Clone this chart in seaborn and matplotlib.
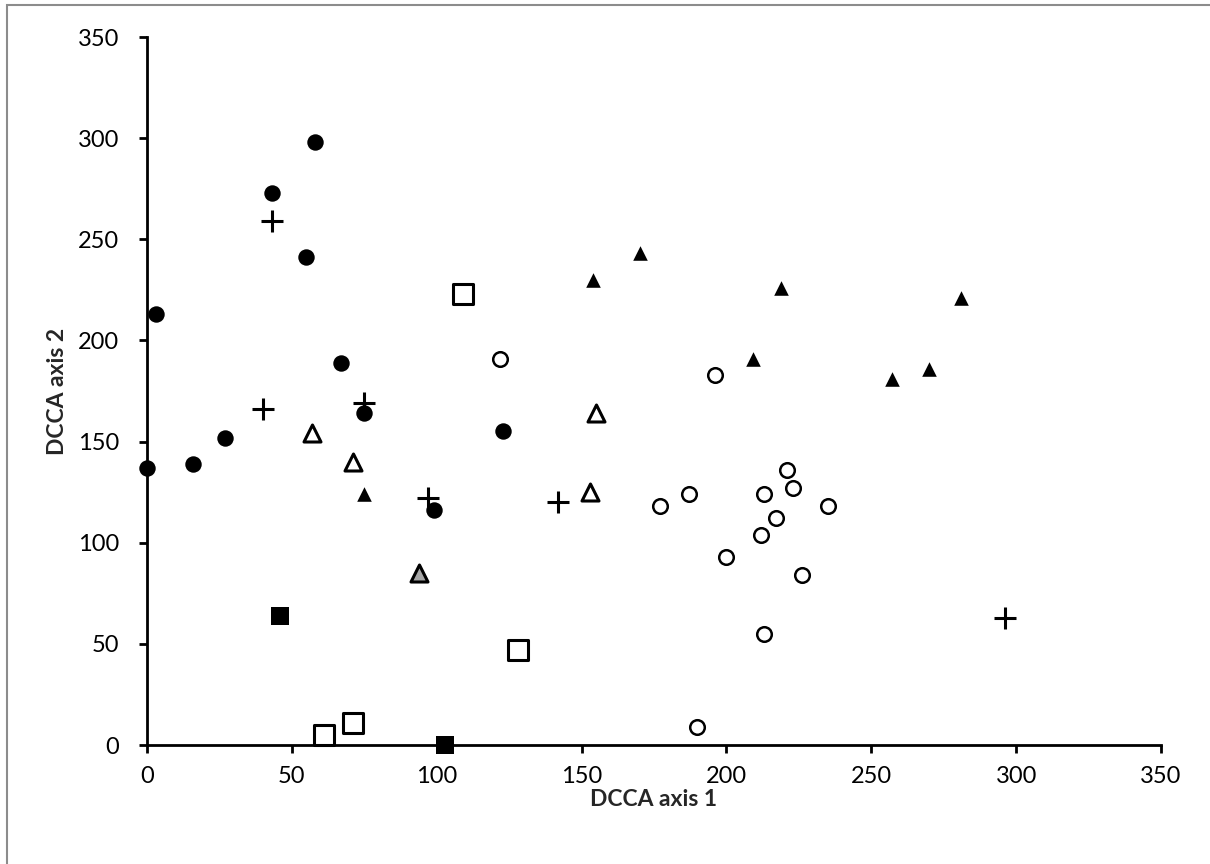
import pandas as pd
import seaborn as sns
import matplotlib.pyplot as plt
from matplotlib.patches import Rectangle

# Site scores (DCCA axis 1, DCCA axis 2)
filled_circle_x = [0, 3, 16, 27, 43, 55, 58, 67, 75, 99, 123]
filled_circle_y = [137, 213, 139, 152, 273, 241, 298, 189, 164, 116, 155]

plus_x = [43, 40, 75, 97, 142, 296]
plus_y = [259, 166, 169, 122, 120, 63]

filled_tri_x = [75, 154, 170, 209, 219, 257, 270, 281]
filled_tri_y = [124, 230, 243, 191, 226, 181, 186, 221]

open_tri_x = [57, 71, 155, 153]
open_tri_y = [154, 140, 164, 125]

grey_tri_x = [94]
grey_tri_y = [85]

open_sq_x = [109, 61, 71, 128]
open_sq_y = [223, 5, 11, 47]

filled_sq_x = [46, 103]
filled_sq_y = [64, 0]

open_circle_x = [122, 196, 177, 187, 213, 221, 223, 217, 212, 200, 235, 226, 213, 190]
open_circle_y = [191, 183, 118, 124, 124, 136, 127, 112, 104, 93, 118, 84, 55, 9]

groups = {
    'filled circle': (filled_circle_x, filled_circle_y),
    'plus': (plus_x, plus_y),
    'filled triangle': (filled_tri_x, filled_tri_y),
    'open triangle': (open_tri_x, open_tri_y),
    'grey triangle': (grey_tri_x, grey_tri_y),
    'open square': (open_sq_x, open_sq_y),
    'filled square': (filled_sq_x, filled_sq_y),
    'open circle': (open_circle_x, open_circle_y),
}

# marker, size, face, edge, edge width
styles = {
    'filled circle': dict(marker='o', s=140, color='black', edgecolor='black', linewidth=0),
    'plus': dict(marker='+', s=260, color='black', linewidth=2.2),
    'filled triangle': dict(marker='^', s=110, color='black', edgecolor='black', linewidth=0),
    'open triangle': dict(marker='^', s=150, color='white', edgecolor='black', linewidth=2.2),
    'grey triangle': dict(marker='^', s=150, color='#a6a6a6', edgecolor='black', linewidth=2.2),
    'open square': dict(marker='s', s=190, color='white', edgecolor='black', linewidth=2.2),
    'filled square': dict(marker='s', s=170, color='black', edgecolor='black', linewidth=0),
    'open circle': dict(marker='o', s=110, color='white', edgecolor='black', linewidth=1.8),
}

df = pd.concat([pd.DataFrame({'x': xs, 'y': ys, 'group': g}) for g, (xs, ys) in groups.items()])

sns.set_style('white')
plt.rcParams['font.family'] = ['Lato', 'DejaVu Sans']

fig = plt.figure(figsize=(12.1, 8.64), dpi=100)
ax = fig.add_axes([147 / 1210, 119 / 864, (1161 - 147) / 1210, (745 - 37) / 864])

for g, sub in df.groupby('group', sort=False):
    sns.scatterplot(data=sub, x='x', y='y', ax=ax, legend=False, zorder=3, clip_on=False, **styles[g])

ax.set_xlim(0, 350)
ax.set_ylim(0, 350)
ax.set_xticks(range(0, 351, 50))
ax.set_yticks(range(0, 351, 50))
for side in ['top', 'right']:
    ax.spines[side].set_visible(False)
for side in ['left', 'bottom']:
    ax.spines[side].set_color('black')
    ax.spines[side].set_linewidth(2)
ax.tick_params(axis='both', direction='out', length=6, width=2, color='black',
               labelsize=17, labelcolor='black', left=True, bottom=True)
ax.tick_params(axis='x', pad=9)
ax.tick_params(axis='y', pad=14)
ax.set_xlabel('DCCA axis 1', fontsize=16.5, fontweight='bold')
ax.set_ylabel('DCCA axis 2', fontsize=16.5, fontweight='bold')
ax.xaxis.set_label_coords(0.5, -0.062)
ax.yaxis.set_label_coords(-0.078, 0.5)
ax.grid(False)

# light grey chart-area frame like the spreadsheet export
fig.add_artist(Rectangle((7 / 1210, -0.1), 1.2, 1.1 - 5 / 864, transform=fig.transFigure,
                         fill=False, edgecolor='#8c8c8c', linewidth=1.5))

fig.savefig('out.png', dpi=100, facecolor='white')
